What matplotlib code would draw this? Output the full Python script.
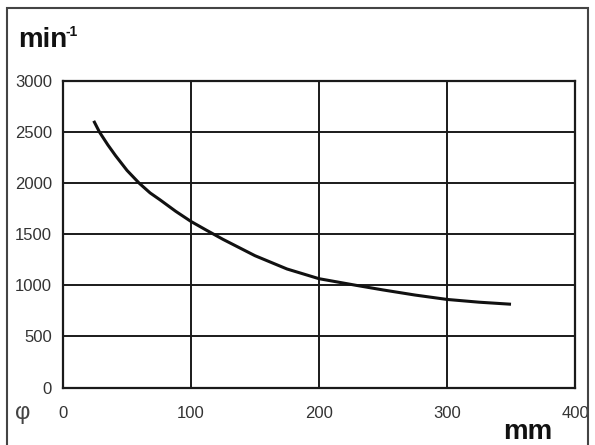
import matplotlib
matplotlib.use('Agg')
import matplotlib.pyplot as plt
from matplotlib.patches import Rectangle

# speed curve (diameter mm -> rpm)
diam = [24, 28.5, 35, 41, 50, 59.5, 68, 76, 88, 100, 112, 125, 150, 175, 200, 229, 250, 275, 300, 325, 350]
rpm = [2610, 2500, 2375, 2270, 2125, 2000, 1905, 1835, 1725, 1625, 1540, 1450, 1290, 1160, 1065, 1000, 955, 905, 862, 835, 815]

xticks = [0, 100, 200, 300, 400]
yticks = [0, 500, 1000, 1500, 2000, 2500, 3000]

plt.rcParams['font.family'] = ['Liberation Sans', 'DejaVu Sans']

fig = plt.figure(figsize=(5.95, 4.45), dpi=100)
ax = fig.add_axes([0.1059, 0.1292, 0.8605, 0.6888])

ax.plot(diam, rpm, color='#111111', lw=2.2, solid_capstyle='butt', solid_joinstyle='round')

ax.set_xlim(0, 400)
ax.set_ylim(0, 3000)
ax.set_xticks(xticks)
ax.set_yticks(yticks)
ax.grid(True, color='#1a1a1a', lw=1.4)
ax.set_axisbelow(True)
for s in ax.spines.values():
    s.set_color('#1a1a1a')
    s.set_linewidth(1.6)
ax.tick_params(length=0, labelsize=12, labelcolor='#333333')
ax.tick_params(axis='y', pad=8)
ax.tick_params(axis='x', pad=13)

# unit labels
fig.text(18 / 595, 1 - 47 / 445, 'min', fontsize=20, fontweight='bold', color='#111111', va='baseline')
fig.text(66 / 595, 1 - 36 / 445, '-1', fontsize=10, fontweight='bold', color='#111111', va='baseline')
fig.text(528 / 595, 1 - 439 / 445, 'mm', fontsize=20, fontweight='bold', color='#111111', ha='center', va='baseline')
fig.text(23 / 595, 1 - 413 / 445, 'φ', fontsize=17, color='#444444', ha='center', va='center')

# frame round the figure
fig.patches.append(Rectangle((7 / 595, -0.05), 581 / 595, 0.05 + 437 / 445,
                             transform=fig.transFigure, fill=False,
                             edgecolor='#444444', lw=1.5))

plt.savefig('out.png', dpi=100)
